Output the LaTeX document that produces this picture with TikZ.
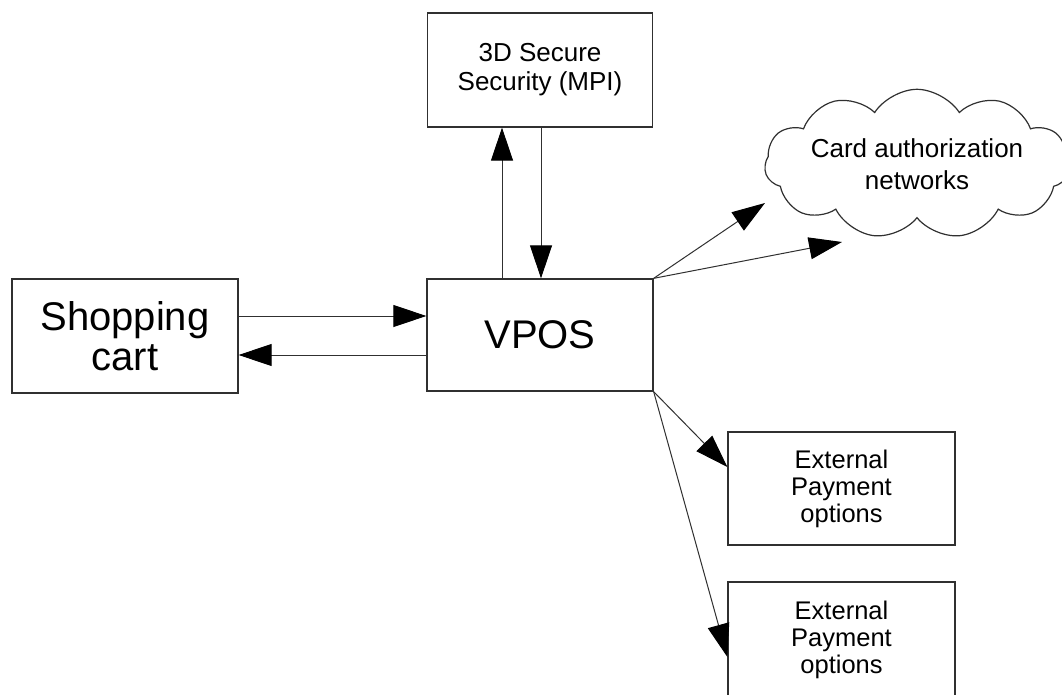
\documentclass[tikz,border=0pt]{standalone}
\usepackage{fontspec}
\setmainfont{Liberation Sans}
\usetikzlibrary{arrows.meta,shapes.symbols}
\definecolor{ln}{HTML}{303030}
\tikzset{
  box/.style={draw=ln, line width=1.3pt, inner sep=0pt, align=center, text=black},
  big/.style={font=\fontsize{40}{40}\selectfont},
  small/.style={font=\fontsize{26}{29}\selectfont},
  extf/.style={font=\fontsize{25.5}{27}\selectfont},
  arr/.style={draw=ln, line width=1pt, -{Triangle[length=33pt,width=22pt,color=black]}}
}
\begin{document}
\begin{tikzpicture}[x=1pt,y=-1pt]
\useasboundingbox[fill=white] (0,0) rectangle (1062,695);
\node[box,big,minimum width=226,minimum height=114] (cart) at (125,336) {Shopping\\cart};
\node[box,big,minimum width=226,minimum height=112] (vpos) at (540,335) {VPOS};
\node[box,small,minimum width=225,minimum height=114] (sec) at (540,70) {3D Secure\\Security (MPI)};
\node[box,extf,minimum width=227,minimum height=113] (ext1) at (841.5,488.5) {External\\Payment\\options};
\node[box,extf,minimum width=227,minimum height=116] (ext2) at (841.5,640) {External\\Payment\\options};
\node[cloud,draw=ln,line width=1.2pt,cloud puffs=11,cloud puff arc=115,aspect=2.8,
      minimum width=270,minimum height=110,inner sep=0pt,align=center,
      font=\fontsize{26}{32}\selectfont] (cloud) at (917,164) {Card authorization\\networks};
\coordinate (c1) at (765,203);
\coordinate (c2) at (842,242);
\draw[arr] (cart.east |- 0,316) -- (vpos.west |- 0,316);
\draw[arr] (vpos.west |- 0,355) -- (cart.east |- 0,355);
\draw[arr] (vpos.north -| 502,0) -- (sec.south -| 502,0);
\draw[arr] (sec.south -| 541,0) -- (vpos.north -| 541,0);
\draw[arr] (vpos.north east) -- (c1);
\draw[arr] (vpos.north east) -- (c2);
\draw[arr] (vpos.south east) -- (ext1.west |- 0,467);
\draw[arr] (vpos.south east) -- (ext2.west |- 0,657);
\end{tikzpicture}
\end{document}
